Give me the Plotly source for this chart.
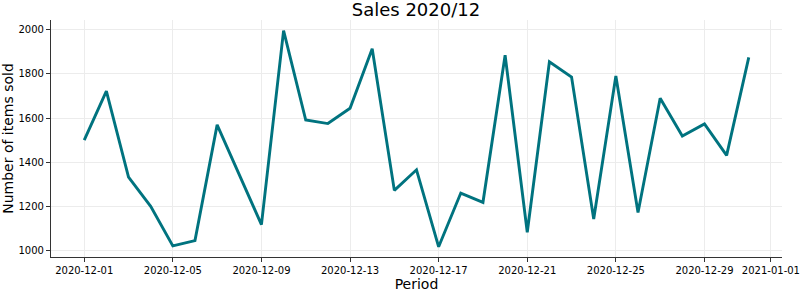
import plotly.graph_objects as go
import pandas as pd

dates = pd.date_range("2020-12-01", "2020-12-31", freq="D").strftime("%Y-%m-%d").tolist()
items_sold = [1500, 1722, 1333, 1201, 1022, 1046, 1569, 1343, 1118, 1995,
              1591, 1575, 1644, 1913, 1273, 1366, 1018, 1261, 1219, 1884,
              1084, 1854, 1785, 1144, 1790, 1173, 1689, 1519, 1573, 1431, 1874]
x_tick_vals = ["2020-12-01", "2020-12-05", "2020-12-09", "2020-12-13", "2020-12-17",
               "2020-12-21", "2020-12-25", "2020-12-29", "2021-01-01"]
y_tick_vals = [1000, 1200, 1400, 1600, 1800, 2000]

font_family = "DejaVu Sans"

fig = go.Figure()
fig.add_trace(go.Scatter(
    x=dates, y=items_sold, mode="lines",
    line=dict(color="#00737f", width=2.9),
    hoverinfo="x+y",
))

fig.update_layout(
    width=800, height=293,
    margin=dict(l=51, r=18, t=20, b=35.5, autoexpand=False),
    paper_bgcolor="white", plot_bgcolor="white",
    font=dict(family=font_family, color="#000000"),
    showlegend=False,
    title=dict(text="Sales 2020/12", x=0.52, xanchor="center",
               y=1 - 10 / 293, yanchor="middle", yref="container",
               font=dict(size=18, family=font_family, color="#000000")),
)

fig.update_xaxes(
    type="date", automargin=False,
    range=["2020-11-29 12:00", "2021-01-01 12:00"],
    tickvals=x_tick_vals, tickformat="%Y-%m-%d",
    tickfont=dict(size=10, family=font_family),
    ticks="outside", ticklen=4, tickwidth=1, tickcolor="#333333",
    showline=True, linecolor="#333333", linewidth=1.2,
    showgrid=True, gridcolor="#ececec", gridwidth=1,
    zeroline=False, mirror=False,
    title=dict(text="Period", font=dict(size=14, family=font_family), standoff=4),
)
fig.update_yaxes(
    range=[972, 2043], automargin=False,
    tickvals=y_tick_vals,
    tickfont=dict(size=10, family=font_family),
    ticks="outside", ticklen=4, tickwidth=1, tickcolor="#333333",
    showline=True, linecolor="#333333", linewidth=1.2,
    showgrid=True, gridcolor="#ececec", gridwidth=1,
    zeroline=False, mirror=False,
    title=dict(text="Number of items sold", font=dict(size=14, family=font_family), standoff=6),
)

fig.write_html("out.html")
